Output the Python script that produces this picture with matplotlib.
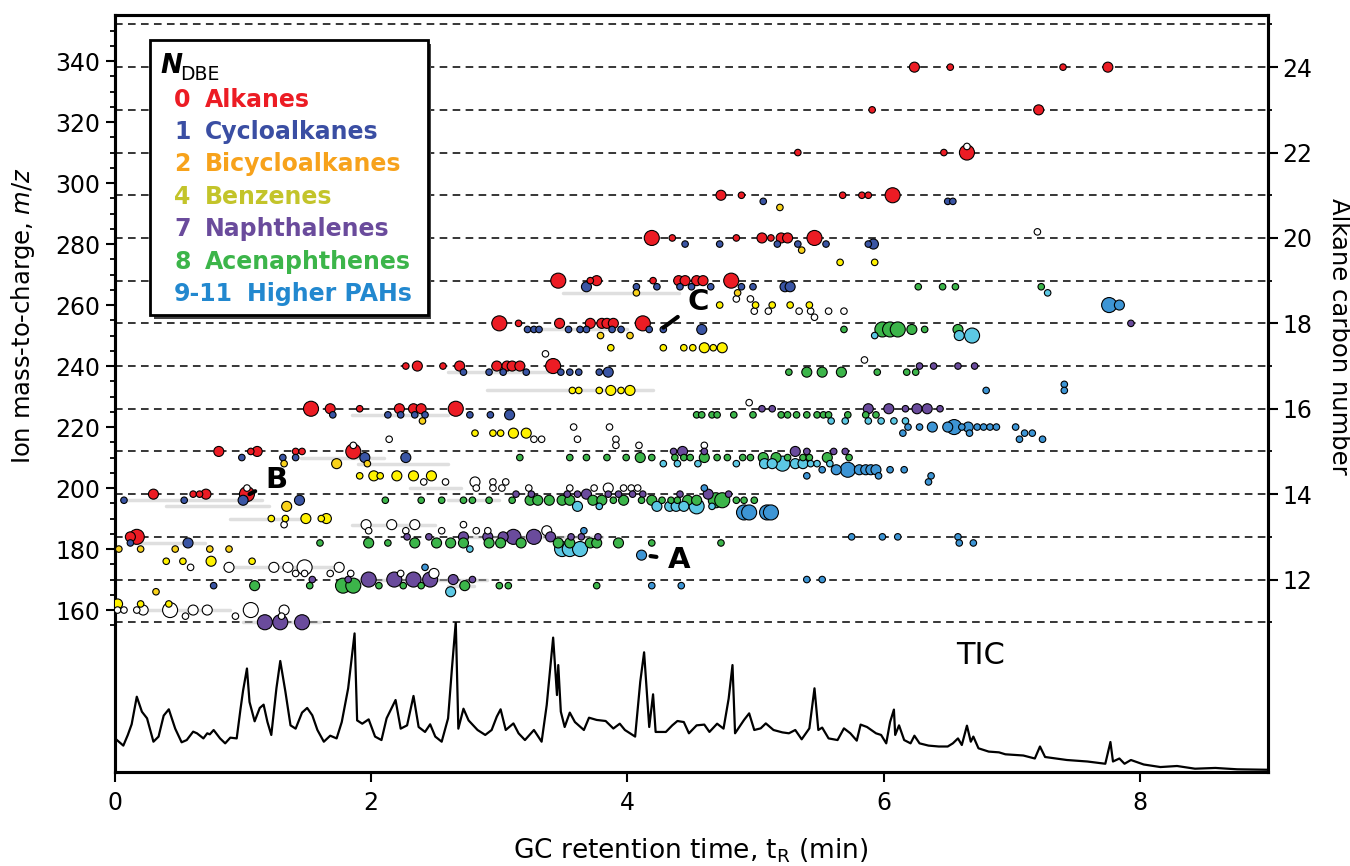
import numpy as np
import matplotlib.pyplot as plt
from matplotlib.patches import Rectangle
from matplotlib.ticker import FixedLocator

# points: (retention time / min, m/z, relative abundance 1..3)
alkanes = [(6.24, 338, 2), (6.52, 338, 1), (7.40, 338, 1), (7.75, 338, 2),
           (5.91, 324, 1), (7.21, 324, 2),
           (5.33, 310, 1), (6.47, 310, 1), (6.65, 310, 3),
           (4.73, 296, 2), (4.89, 296, 1), (5.68, 296, 1), (5.83, 296, 1), (5.88, 296, 1), (6.07, 296, 3),
           (4.19, 282, 3), (4.35, 282, 1), (4.85, 282, 1), (5.05, 282, 2), (5.12, 282, 1), (5.20, 282, 2),
           (5.25, 282, 2), (5.46, 282, 3),
           (3.46, 268, 3), (3.71, 268, 1), (3.76, 268, 2), (4.20, 268, 1), (4.40, 268, 2), (4.45, 268, 2),
           (4.54, 268, 2), (4.59, 268, 2), (4.81, 268, 3),
           (3.00, 254, 3), (3.15, 254, 1), (3.47, 254, 2), (3.71, 254, 2), (3.80, 254, 2), (3.84, 254, 2),
           (3.89, 254, 2), (4.12, 254, 3),
           (2.27, 240, 1), (2.36, 240, 2), (2.56, 240, 1), (2.69, 240, 2), (2.98, 240, 2), (3.06, 240, 2),
           (3.10, 240, 2), (3.16, 240, 2), (3.42, 240, 3),
           (1.53, 226, 3), (1.68, 226, 2), (1.91, 226, 1), (2.22, 226, 2), (2.33, 226, 2), (2.39, 226, 2),
           (2.66, 226, 3),
           (0.81, 212, 2), (1.06, 212, 1), (1.11, 212, 2), (1.41, 212, 1), (1.46, 212, 1), (1.86, 212, 3),
           (0.30, 198, 2), (0.61, 198, 1), (0.66, 198, 1), (0.71, 198, 2), (1.03, 198, 3),
           (0.12, 184, 2), (0.17, 184, 3)]

cycloalkanes = [(5.06, 294, 1), (6.50, 294, 1), (6.54, 294, 1),
                (4.45, 280, 1), (4.72, 280, 1), (5.17, 280, 1), (5.33, 280, 1), (5.55, 280, 1), (5.88, 280, 1),
                (5.92, 280, 2),
                (3.68, 266, 2), (4.07, 266, 1), (4.23, 266, 1), (4.41, 266, 1), (4.50, 266, 1), (4.65, 266, 1),
                (4.89, 266, 1), (4.98, 266, 1), (5.23, 266, 2), (5.27, 266, 2),
                (3.22, 252, 1), (3.27, 252, 1), (3.31, 252, 1), (3.54, 252, 1), (3.63, 252, 1), (3.68, 252, 1),
                (3.88, 252, 1), (3.95, 252, 1), (4.17, 252, 1), (4.28, 252, 1), (4.58, 252, 2),
                (2.72, 238, 1), (2.92, 238, 1), (3.03, 238, 1), (3.21, 238, 1), (3.48, 238, 1), (3.55, 238, 1),
                (3.62, 238, 1), (3.78, 238, 1), (3.85, 238, 2),
                (1.70, 224, 1), (2.13, 224, 1), (2.23, 224, 1), (2.34, 224, 1), (2.42, 224, 1), (2.77, 224, 1),
                (2.93, 224, 1), (3.08, 224, 2),
                (0.99, 210, 1), (1.31, 210, 1), (1.41, 210, 1), (1.95, 210, 2), (2.27, 210, 2),
                (0.07, 196, 1), (0.54, 196, 1), (1.00, 196, 2), (1.44, 196, 2),
                (0.12, 182, 1), (0.57, 182, 2),
                (0.77, 168, 1)]

bicycloalkanes = [(5.19, 292, 1), (5.36, 278, 1), (4.07, 264, 1), (4.86, 264, 1),
                  (3.79, 250, 1), (4.02, 250, 1), (2.40, 222, 1),
                  (1.32, 208, 1), (1.73, 208, 2), (1.97, 208, 1), (1.34, 194, 2),
                  (0.03, 180, 1), (0.20, 180, 1), (0.47, 180, 1), (0.74, 180, 1), (0.89, 180, 1),
                  (0.32, 166, 1)]

benzenes = [(5.66, 274, 1), (5.93, 274, 1),
            (4.72, 260, 1), (5.00, 260, 1), (5.13, 260, 1), (5.27, 260, 1), (5.42, 260, 1),
            (3.87, 246, 1), (4.28, 246, 1), (4.44, 246, 1), (4.51, 246, 1), (4.60, 246, 2), (4.67, 246, 1),
            (4.74, 246, 2),
            (3.57, 232, 1), (3.62, 232, 1), (3.78, 232, 1), (3.87, 232, 2), (3.95, 232, 1), (4.02, 232, 2),
            (2.81, 218, 1), (2.95, 218, 1), (3.01, 218, 1), (3.11, 218, 2), (3.21, 218, 2),
            (1.91, 204, 1), (2.02, 204, 2), (2.07, 204, 1), (2.20, 204, 2), (2.33, 204, 2), (2.47, 204, 2),
            (1.22, 190, 1), (1.33, 190, 1), (1.49, 190, 2), (1.61, 190, 1), (1.65, 190, 2),
            (0.40, 176, 1), (0.53, 176, 1), (0.75, 176, 2), (1.07, 176, 1),
            (0.02, 162, 2), (0.20, 162, 1), (0.42, 162, 1)]

naphthalenes = [(7.93, 254, 1),
                (6.28, 240, 1), (6.39, 240, 1), (6.58, 240, 1), (6.71, 240, 1),
                (5.05, 226, 1), (5.13, 226, 1), (5.88, 226, 2), (6.04, 226, 2), (6.17, 226, 1), (6.26, 226, 2),
                (6.34, 226, 2), (6.44, 226, 1),
                (4.36, 212, 1), (4.43, 212, 2), (4.60, 212, 1), (5.31, 212, 2), (5.40, 212, 1), (5.61, 212, 1),
                (5.70, 212, 1),
                (3.13, 198, 1), (3.25, 198, 1), (3.53, 198, 1), (3.61, 198, 1), (3.68, 198, 2), (3.85, 198, 1),
                (3.93, 198, 1), (4.04, 198, 1), (4.12, 198, 1), (4.41, 198, 1), (4.63, 198, 2), (4.79, 198, 1),
                (2.28, 184, 1), (2.45, 184, 1), (2.72, 184, 2), (2.91, 184, 2), (3.03, 184, 2), (3.11, 184, 3),
                (3.27, 184, 3), (3.40, 184, 2), (3.56, 184, 1), (3.64, 184, 1), (3.77, 184, 1),
                (1.54, 170, 1), (1.82, 170, 1), (1.98, 170, 3), (2.18, 170, 3), (2.33, 170, 3), (2.46, 170, 3),
                (2.64, 170, 2), (2.79, 170, 1),
                (1.17, 156, 3), (1.29, 156, 3), (1.46, 156, 3)]

acenaphthenes = [(6.27, 266, 1), (6.46, 266, 1), (6.56, 266, 1), (7.23, 266, 1),
                 (5.69, 252, 1), (5.99, 252, 3), (6.05, 252, 3), (6.11, 252, 3), (6.22, 252, 2), (6.32, 252, 1),
                 (6.58, 252, 2),
                 (5.26, 238, 1), (5.40, 238, 2), (5.52, 238, 2), (5.67, 238, 2), (5.95, 238, 1), (6.18, 238, 1),
                 (6.25, 238, 1),
                 (4.54, 224, 1), (4.58, 224, 1), (4.66, 224, 1), (4.70, 224, 1), (4.83, 224, 1), (4.98, 224, 1),
                 (5.20, 224, 1), (5.25, 224, 1), (5.32, 224, 1), (5.40, 224, 1), (5.48, 224, 1), (5.53, 224, 1),
                 (5.57, 224, 1), (5.72, 224, 1), (5.86, 224, 1), (5.94, 224, 1),
                 (3.16, 210, 1), (3.55, 210, 1), (3.68, 210, 1), (3.84, 210, 1), (3.99, 210, 1), (4.10, 210, 2),
                 (4.19, 210, 1), (4.37, 210, 1), (4.44, 210, 1), (4.49, 210, 1), (4.60, 210, 2), (4.70, 210, 1),
                 (4.78, 210, 1), (4.90, 210, 1), (4.96, 210, 1), (5.06, 210, 2), (5.16, 210, 2), (5.25, 210, 1),
                 (5.37, 210, 1), (5.42, 210, 1), (5.56, 210, 2), (5.73, 210, 1),
                 (2.11, 196, 1), (2.39, 196, 1), (2.55, 196, 1), (2.72, 196, 1), (2.79, 196, 1), (2.92, 196, 1),
                 (3.10, 196, 1), (3.24, 196, 2), (3.30, 196, 2), (3.39, 196, 2), (3.49, 196, 2), (3.55, 196, 2),
                 (3.73, 196, 2), (3.80, 196, 2), (3.89, 196, 1), (3.97, 196, 2), (4.11, 196, 1), (4.19, 196, 2),
                 (4.27, 196, 1), (4.34, 196, 1), (4.39, 196, 1), (4.47, 196, 2), (4.54, 196, 2), (4.69, 196, 3),
                 (4.74, 196, 3), (4.85, 196, 1), (4.91, 196, 1), (4.99, 196, 1),
                 (1.60, 182, 1), (1.98, 182, 2), (2.13, 182, 1), (2.34, 182, 2), (2.51, 182, 2), (2.62, 182, 2),
                 (2.72, 182, 2), (2.92, 182, 2), (3.01, 182, 2), (3.17, 182, 2), (3.46, 182, 2), (3.55, 182, 2),
                 (3.71, 182, 2), (3.76, 182, 2), (3.93, 182, 2), (4.19, 182, 1), (4.73, 182, 1),
                 (1.09, 168, 2), (1.52, 168, 1), (1.78, 168, 3), (1.86, 168, 3), (2.06, 168, 1), (2.25, 168, 1),
                 (2.39, 168, 1), (2.73, 168, 2), (3.00, 168, 1), (3.07, 168, 1), (3.76, 168, 1)]

pahs_light = [(7.28, 264, 1), (5.93, 250, 1), (6.59, 250, 2), (6.69, 250, 3),
              (5.59, 222, 1), (5.70, 222, 1), (5.88, 222, 1), (5.98, 222, 1), (6.08, 222, 1), (6.17, 222, 1),
              (4.28, 208, 1), (4.39, 208, 1), (4.55, 208, 1), (4.85, 208, 1), (5.07, 208, 2), (5.13, 208, 2),
              (5.21, 208, 3), (5.31, 208, 2), (5.37, 208, 2), (5.43, 208, 1), (5.48, 208, 1), (5.58, 208, 1),
              (3.61, 194, 2), (3.78, 194, 1), (4.23, 194, 2), (4.33, 194, 2), (4.38, 194, 2), (4.44, 194, 2),
              (4.54, 194, 3), (4.66, 194, 1),
              (2.77, 180, 1), (3.49, 180, 3), (3.55, 180, 3), (3.63, 180, 3),
              (2.62, 166, 2)]

pahs = [(7.76, 260, 3), (7.84, 260, 2),
        (6.80, 232, 1), (7.41, 234, 1), (7.41, 232, 1),
        (6.19, 220, 1), (6.28, 220, 1), (6.38, 220, 2), (6.50, 220, 2), (6.55, 220, 3), (6.61, 220, 1),
        (6.66, 220, 2), (6.73, 220, 1), (6.78, 220, 1), (6.83, 220, 1), (6.88, 220, 1), (7.03, 220, 1),
        (6.15, 218, 1), (6.67, 218, 1), (7.10, 218, 1), (7.16, 218, 1), (7.06, 216, 1), (7.24, 216, 1),
        (5.52, 206, 1), (5.63, 206, 2), (5.72, 206, 3), (5.81, 206, 2), (5.86, 206, 2), (5.90, 206, 2),
        (5.94, 206, 2), (6.05, 206, 1), (6.16, 206, 1),
        (5.40, 204, 1), (5.96, 204, 1), (6.37, 204, 1), (6.35, 202, 1), (4.60, 200, 1),
        (4.91, 192, 3), (4.95, 192, 3), (5.09, 192, 3), (5.12, 192, 3),
        (3.66, 186, 1), (5.75, 184, 1), (5.99, 184, 1), (6.11, 184, 1), (6.58, 184, 1),
        (6.59, 182, 1), (6.70, 182, 1), (4.11, 178, 2), (2.42, 174, 1),
        (5.40, 170, 1), (5.52, 170, 1), (4.19, 168, 1), (4.42, 168, 1)]

unassigned = [(6.65, 312, 1), (7.20, 284, 1), (4.85, 262, 1), (4.96, 262, 1),
              (4.99, 258, 1), (5.10, 258, 1), (5.34, 258, 1), (5.43, 258, 1), (5.57, 258, 1), (5.69, 258, 1),
              (5.46, 256, 1), (3.36, 244, 1), (5.85, 242, 1), (4.95, 228, 1),
              (3.58, 220, 1), (3.86, 220, 1),
              (2.14, 216, 1), (3.27, 216, 1), (3.33, 216, 1), (3.61, 216, 1), (3.91, 216, 1),
              (1.86, 214, 1), (3.91, 214, 1), (4.09, 214, 1), (4.60, 214, 1),
              (2.41, 202, 1), (2.58, 202, 1), (2.81, 202, 2), (2.95, 202, 1), (3.05, 202, 1),
              (1.03, 200, 1), (2.82, 200, 1), (2.95, 200, 1), (3.02, 200, 1), (3.23, 200, 1), (3.55, 200, 1),
              (3.74, 200, 1), (3.85, 200, 2), (3.97, 200, 1), (4.03, 200, 1), (4.08, 200, 1),
              (1.32, 188, 1), (1.96, 188, 2), (2.16, 188, 2), (2.34, 188, 2), (2.72, 188, 1),
              (1.98, 186, 1), (2.27, 186, 1), (2.55, 186, 1), (2.82, 186, 1), (2.91, 186, 1), (3.37, 186, 2),
              (0.59, 174, 1), (0.89, 174, 2), (1.24, 174, 2), (1.35, 174, 2), (1.48, 174, 3), (1.75, 174, 2),
              (1.41, 172, 1), (1.48, 172, 1), (1.68, 172, 1), (1.84, 172, 1), (2.23, 172, 1), (2.49, 172, 2),
              (0.02, 160, 1), (0.07, 160, 1), (0.17, 160, 1), (0.22, 160, 2), (0.43, 160, 3), (0.61, 160, 2),
              (0.72, 160, 2), (1.06, 160, 3), (1.32, 160, 2),
              (0.55, 158, 1), (0.94, 158, 1), (1.30, 158, 1)]

# faint chromatographic smears behind the points: (start, end, m/z)
smears = [(0.25, 0.9, 160), (1.0, 1.6, 156), (0.85, 1.75, 174), (0.1, 0.7, 182), (0.07, 1.15, 196),
          (0.4, 1.2, 194), (0.9, 1.5, 190), (1.85, 2.5, 188), (1.45, 2.1, 210), (1.9, 2.6, 208),
          (1.85, 2.6, 224), (2.3, 2.7, 200), (1.75, 2.9, 170), (2.7, 3.8, 184), (2.6, 3.4, 238),
          (2.9, 4.2, 232), (3.2, 4.0, 252), (2.6, 3.0, 196), (2.6, 2.8, 168), (3.5, 4.4, 264)]

# total ion chromatogram (% of largest peak)
tic_t = [0.0, 0.065, 0.10, 0.13, 0.17, 0.21, 0.25, 0.30, 0.34, 0.38, 0.42, 0.47, 0.52, 0.56, 0.61, 0.64,
         0.69, 0.72, 0.74, 0.77, 0.82, 0.86, 0.90, 0.95, 0.98, 1.00, 1.03, 1.05, 1.09, 1.13, 1.16, 1.19,
         1.22, 1.26, 1.29, 1.33, 1.37, 1.41, 1.46, 1.50, 1.54, 1.58, 1.63, 1.68, 1.73, 1.77, 1.82, 1.87,
         1.89, 1.93, 1.98, 2.03, 2.08, 2.12, 2.19, 2.23, 2.28, 2.33, 2.37, 2.42, 2.46, 2.50, 2.55, 2.60,
         2.63, 2.66, 2.68, 2.72, 2.76, 2.83, 2.89, 2.94, 2.98, 3.01, 3.05, 3.11, 3.15, 3.20, 3.27, 3.33,
         3.37, 3.42, 3.45, 3.46, 3.48, 3.51, 3.55, 3.59, 3.66, 3.70, 3.76, 3.83, 3.89, 3.94, 3.98, 4.06,
         4.10, 4.13, 4.17, 4.20, 4.22, 4.30, 4.35, 4.39, 4.44, 4.48, 4.54, 4.60, 4.64, 4.70, 4.75, 4.79,
         4.82, 4.84, 4.91, 4.95, 4.99, 5.04, 5.08, 5.14, 5.21, 5.26, 5.31, 5.36, 5.42, 5.46, 5.49, 5.52,
         5.57, 5.64, 5.69, 5.74, 5.79, 5.82, 5.87, 5.94, 5.98, 6.02, 6.05, 6.08, 6.09, 6.12, 6.16, 6.21,
         6.24, 6.28, 6.35, 6.43, 6.50, 6.54, 6.58, 6.61, 6.65, 6.68, 6.70, 6.74, 6.82, 6.90, 6.95, 7.09,
         7.18, 7.22, 7.26, 7.43, 7.59, 7.73, 7.77, 7.79, 7.84, 7.88, 7.93, 8.03, 8.16, 8.29, 8.43, 8.59,
         8.76, 8.99]
tic_i = [22.4, 17.6, 24.7, 31.8, 50.2, 40.2, 35.8, 20.2, 23.6, 37.6, 41.8, 28.9, 19.8, 21.3, 26.9, 25.8,
         22.4, 25.8, 25.1, 28.0, 22.4, 19.1, 22.9, 22.4, 42.2, 54.4, 69.0, 46.7, 33.8, 42.7, 44.9, 33.3,
         24.7, 55.8, 74.0, 53.6, 31.1, 28.9, 39.6, 42.7, 37.8, 28.0, 20.2, 24.2, 22.4, 33.3, 55.8, 92.4,
         34.4, 32.2, 35.1, 23.6, 21.3, 35.8, 48.0, 28.9, 31.1, 50.7, 30.0, 26.7, 31.8, 23.6, 20.2, 35.8,
         69.0, 100.0, 28.9, 42.2, 34.4, 28.0, 24.7, 28.0, 36.9, 41.8, 28.0, 32.4, 25.8, 21.3, 28.0, 20.2,
         44.7, 89.6, 51.3, 71.3, 40.2, 30.0, 39.6, 33.3, 28.0, 36.2, 34.7, 34.0, 29.0, 32.2, 28.0, 23.6,
         60.2, 79.8, 30.0, 51.8, 26.7, 26.7, 31.1, 34.0, 33.3, 25.8, 31.1, 31.6, 26.7, 32.2, 28.9, 48.9,
         71.3, 25.8, 34.7, 39.1, 28.0, 29.1, 32.4, 28.0, 26.4, 25.8, 28.0, 21.8, 29.1, 55.8, 28.0, 29.6,
         22.4, 21.3, 29.1, 25.8, 20.9, 31.6, 30.0, 25.8, 24.7, 19.1, 33.3, 41.6, 24.7, 31.1, 21.3, 19.1,
         24.2, 19.1, 17.6, 17.0, 17.0, 19.1, 22.4, 18.0, 30.9, 20.2, 23.6, 15.8, 13.6, 13.1, 11.8, 11.0,
         9.0, 17.0, 10.0, 8.0, 7.0, 5.5, 20.0, 7.0, 9.0, 5.5, 8.0, 5.0, 3.3, 4.0, 2.2, 2.7,
         1.8, 1.5]

carbon_n = [11, 12, 13, 14, 15, 16, 17, 18, 19, 20, 21, 22, 23, 24, 25]

groups = [(unassigned, 'white'), (alkanes, '#ec1c24'), (cycloalkanes, '#3a55a4'),
          (bicycloalkanes, '#f9d21a'), (benzenes, '#fff200'), (naphthalenes, '#6a4b9c'),
          (acenaphthenes, '#3cb54a'), (pahs_light, '#5cc8e4'), (pahs, '#3d95d5')]
legend_rows = [('0', 'Alkanes', '#ec1c24'), ('1', 'Cycloalkanes', '#3a4ea3'),
               ('2', 'Bicycloalkanes', '#f7a21b'), ('4', 'Benzenes', '#c3c42a'),
               ('7', 'Naphthalenes', '#6a4b9c'), ('8', 'Acenaphthenes', '#3cb54a'),
               ('9-11', 'Higher PAHs', '#2288cf')]
area = {1: 22, 2: 52, 3: 117}

fig = plt.figure(figsize=(13.5, 8.66), dpi=100)
ax = fig.add_axes([115 / 1350, 94 / 866, 1153 / 1350, 757 / 866])
ax2 = ax.twinx()
ax.set_zorder(ax2.get_zorder() + 1)
ax.patch.set_visible(False)

mz_lo, mz_hi = 106.9, 355.1
ax.set_xlim(0, 9)
ax.set_ylim(mz_lo, mz_hi)
ax2.set_ylim((mz_lo - 2) / 14, (mz_hi - 2) / 14)

# alkane m/z lines
for n in carbon_n:
    ax2.axhline(n, color='k', lw=1.1, ls=(0, (5, 3.5)), zorder=1)

for t0, t1, m in smears:
    ax.plot([t0, t1], [m, m], color='#b8b8b8', lw=2.5, alpha=0.45, solid_capstyle='round', zorder=1)

# all points in one scatter, large ones underneath
t_all, m_all, s_all, c_all = [], [], [], []
for pts, col in groups:
    for t, m, s in pts:
        t_all.append(t)
        m_all.append(m)
        s_all.append(s)
        c_all.append(col)
order = np.argsort(-np.array(s_all), kind='stable')
ax.scatter(np.array(t_all)[order], np.array(m_all)[order], s=[area[s_all[i]] for i in order],
           c=[c_all[i] for i in order], edgecolors='k', linewidths=0.8, zorder=3)

# ticks
ax.set_yticks(np.arange(160, 341, 20))
ax.yaxis.set_minor_locator(FixedLocator(np.arange(155, 351, 5)))
ax.set_xticks([0, 2, 4, 6, 8])
ax.tick_params(axis='y', which='major', length=6.5, width=1.5, labelsize=17, pad=4)
ax.tick_params(axis='y', which='minor', length=3.5, width=1.3)
ax.tick_params(axis='x', which='major', length=7, width=1.5, labelsize=17, pad=7)
ax2.set_yticks([12, 14, 16, 18, 20, 22, 24])
ax2.yaxis.set_minor_locator(FixedLocator([11, 13, 15, 17, 19, 21, 23, 25]))
ax2.tick_params(axis='y', which='major', length=7, width=1.5, labelsize=17, pad=3.5)
ax2.tick_params(axis='y', which='minor', length=3, width=1.3)
for a in (ax, ax2):
    for sp in a.spines.values():
        sp.set_linewidth(2.2)

ax.set_xlabel('GC retention time, t$_\\mathrm{R}$ (min)', fontsize=19)
ax.xaxis.set_label_coords(0.499, -0.085)
ax.set_ylabel('Ion mass-to-charge, $m/z$', fontsize=17.5)
ax.yaxis.set_label_coords(-0.068, 0.603)
ax2.set_ylabel('Alkane carbon number', fontsize=17.5, rotation=270, va='bottom')
ax2.yaxis.set_label_coords(1.051, 0.575)

# labelled peaks
for lab, xy, xyt in [('A', (4.18, 177.7), (4.40, 176.4)),
                     ('B', (1.05, 198.0), (1.26, 202.6)),
                     ('C', (4.28, 252.6), (4.55, 261.0))]:
    ax.annotate(lab, xy=xy, xytext=xyt, ha='center', va='center', fontsize=21, fontweight='bold',
                arrowprops=dict(arrowstyle='-', lw=3, color='k', shrinkA=6, shrinkB=0), zorder=6)

# legend box
ax.add_patch(Rectangle((0.0304 + 0.003, 0.6037 - 0.005), 0.2411, 0.3633, transform=ax.transAxes,
                       facecolor='#444444', edgecolor='none', zorder=7))
ax.add_patch(Rectangle((0.0304, 0.6037), 0.2411, 0.3633, transform=ax.transAxes,
                       facecolor='white', edgecolor='k', lw=2, zorder=8))
ax.text(0.039, 0.9326, 'N', transform=ax.transAxes, fontsize=19, fontweight='bold', style='italic',
        ha='left', va='center', zorder=9)
ax.text(0.0565, 0.922, 'DBE', transform=ax.transAxes, fontsize=13.5, ha='left', va='center', zorder=9)
row_y = [0.8877, 0.8454, 0.8032, 0.7596, 0.7173, 0.6737, 0.6314]
for (num, name, col), yy in zip(legend_rows, row_y):
    ax.text(0.0512, yy, num, transform=ax.transAxes, color=col, fontsize=17, fontweight='bold',
            ha='left', va='center', zorder=9)
    xn = 0.1145 if num == '9-11' else 0.0781
    ax.text(xn, yy, name, transform=ax.transAxes, color=col, fontsize=17, fontweight='bold',
            ha='left', va='center', zorder=9)

# TIC trace in the strip below the m/z = 156 line
ax_tic = fig.add_axes([115 / 1350, 94 / 866, 1153 / 1350, 150 / 866])
ax_tic.set_xlim(0, 9)
ax_tic.set_ylim(0, 100)
ax_tic.axis('off')
ax_tic.plot(tic_t, tic_i, color='k', lw=1.6)
ax_tic.text(6.76, 78, 'TIC', ha='center', va='center', fontsize=22)

plt.savefig('out.png', dpi=100)
